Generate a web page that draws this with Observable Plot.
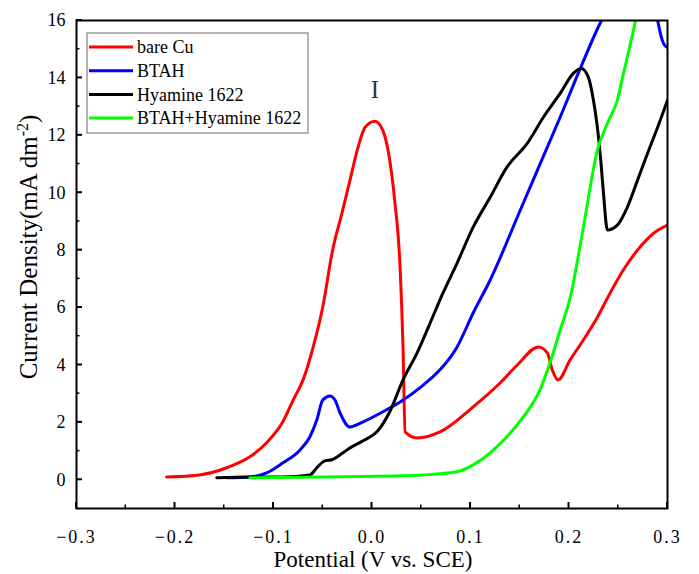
<!DOCTYPE html>
<html>
<head>
<meta charset="utf-8">
<script src="https://cdn.jsdelivr.net/npm/d3@7"></script>
<script src="https://cdn.jsdelivr.net/npm/@observablehq/plot@0.6"></script>
<style>
  html, body { margin: 0; padding: 0; background: #fff; }
  #chart svg { display: block; }
</style>
</head>
<body>
<div id="chart"></div>
<script>
// ---- Data (potential in V vs. SCE, current density in mA dm^-2) ----
const seriesNames = ["bare Cu", "BTAH", "Hyamine 1622", "BTAH+Hyamine 1622"];
const seriesColors = ["#ff0000", "#0000ff", "#000000", "#00ff00"];

const bareCuX = [-0.2085,-0.175,-0.1475,-0.124,-0.107,-0.0905,-0.080,-0.070,-0.060,-0.050,-0.040,-0.0305,-0.0224,-0.0142,-0.007,0.003,0.011,0.018,0.023,0.0285,0.0315,0.0336,0.0458,0.069,0.1027,0.130,0.1475,0.169,0.178,0.183,0.189,0.201,0.2146,0.229,0.239,0.255,0.2695,0.286,0.300];
const bareCuY = [0.10,0.17,0.42,0.80,1.29,2.02,2.78,3.48,4.59,6.02,8.0,9.29,10.43,11.58,12.28,12.49,12.17,11.13,9.74,7.41,4.63,1.67,1.46,1.67,2.54,3.37,4.0,4.63,4.42,3.83,3.48,4.17,4.87,5.67,6.33,7.30,8.0,8.59,8.87];

const btahX = [-0.1475,-0.124,-0.107,-0.0905,-0.073,-0.063,-0.056,-0.050,-0.0427,-0.0376,-0.0325,-0.0224,-0.009,0.011,0.0285,0.052,0.069,0.0864,0.1027,0.120,0.1505,0.171,0.191,0.2115,0.232,0.255,0.275,0.287,0.290,0.296,0.300];
const btahY = [0.07,0.10,0.24,0.59,1.04,1.50,2.09,2.78,2.92,2.78,2.33,1.84,2.02,2.37,2.71,3.30,3.83,4.63,5.81,6.96,9.39,11.03,12.63,14.33,15.93,17.2,17.3,16.6,16.0,15.2,15.06];

const hyamineX = [-0.1576,-0.124,-0.0905,-0.063,-0.056,-0.048,-0.0407,-0.0295,-0.0224,-0.009,0.005,0.018,0.0315,0.0458,0.059,0.072,0.0864,0.1027,0.120,0.137,0.1576,0.174,0.191,0.2044,0.2125,0.2197,0.2248,0.2288,0.232,0.235,0.239,0.249,0.2593,0.2695,0.2797,0.290,0.300];
const hyamineY = [0.07,0.10,0.10,0.17,0.42,0.66,0.70,0.94,1.11,1.36,1.67,2.37,3.48,4.42,5.46,6.50,7.55,8.80,9.84,10.89,11.72,12.63,13.46,14.16,14.33,14.02,13.22,12.28,11.23,9.98,8.70,8.87,9.50,10.43,11.37,12.28,13.22];

const mixX = [-0.124,-0.056,0.0285,0.052,0.0864,0.1027,0.120,0.137,0.1536,0.171,0.181,0.191,0.2014,0.2146,0.2288,0.239,0.249,0.2553,0.2624,0.2675,0.272];
const mixY = [0.07,0.10,0.14,0.17,0.28,0.52,0.94,1.50,2.19,3.17,4.10,5.22,6.37,8.80,11.48,12.42,13.22,14.16,15.20,16.0,17.0];

const xTicks = [-0.3,-0.2,-0.1,0.0,0.1,0.2,0.3];
const xMinorTicks = [-0.25,-0.15,-0.05,0.05,0.15,0.25];
const yTicks = [0,2,4,6,8,10,12,14,16];
const yMinorTicks = [1,3,5,7,9,11,13,15];
const peakLabel = "I";
const xTitle = "Potential (V vs. SCE)";
const yTitle = "Current Density(mA dm";
const yTitleSup = "-2";
const yTitleEnd = ")";

// ---- Build tidy table ----
const allX = [bareCuX, btahX, hyamineX, mixX];
const allY = [bareCuY, btahY, hyamineY, mixY];
const data = [];
allX.forEach((xs, i) => xs.forEach((x, j) => data.push({series: seriesNames[i], x, y: allY[i][j]})));
const bareCu = data.filter(d => d.series === "bare Cu");
const peak = d3.greatest(bareCu, d => d.y);

const fmtX = d => (d < 0 ? "\u2212" : "") + Math.abs(d).toFixed(1);
const serif = "'Liberation Serif', 'Times New Roman', serif";

const plot = Plot.plot({
  width: 699,
  height: 574,
  marginLeft: 76,
  marginRight: 32,
  marginTop: 20,
  marginBottom: 66,
  style: {fontFamily: serif, fontSize: "18px", background: "#fff", color: "#000"},
  x: {domain: [-0.3, 0.3]},
  y: {domain: [-1, 16]},
  color: {domain: seriesNames, range: seriesColors},
  marks: [
    Plot.line(data, {x: "x", y: "y", z: "series", stroke: "series", strokeWidth: 3, clip: true, curve: "monotone-x", strokeLinejoin: "round", strokeLinecap: "round"}),
    Plot.text([peak], {x: "x", y: "y", text: () => peakLabel, dy: -31, fontSize: 25, fill: "#333", fontFamily: serif}),
    Plot.axisX({ticks: xTicks, tickSize: 0, tickPadding: 22, tickFormat: fmtX, label: null, fontSize: 18, fontFamily: serif}),
    Plot.axisY({ticks: yTicks, tickSize: 0, tickPadding: 11, label: null, fontSize: 18, fontFamily: serif}),
    Plot.frame({stroke: "#000", strokeWidth: 2})
  ]
});

const svg = d3.select(plot);
const xs = plot.scale("x"), ys = plot.scale("y");
const x0 = xs.range[0], yBottom = ys.range[0];

// widen x tick label spacing (SimSun-like look)
svg.selectAll("g[aria-label='x-axis tick label'] text").attr("letter-spacing", "2px");

// Inward ticks drawn from the plot's own scales
const tk = svg.append("g").attr("stroke", "#000");
xTicks.forEach(t => tk.append("line").attr("x1", xs.apply(t)).attr("x2", xs.apply(t))
  .attr("y1", yBottom).attr("y2", yBottom - 6).attr("stroke-width", 2));
xMinorTicks.forEach(t => tk.append("line").attr("x1", xs.apply(t)).attr("x2", xs.apply(t))
  .attr("y1", yBottom).attr("y2", yBottom - 3.5).attr("stroke-width", 1.5));
yTicks.forEach(t => tk.append("line").attr("y1", ys.apply(t)).attr("y2", ys.apply(t))
  .attr("x1", x0).attr("x2", x0 + 6).attr("stroke-width", 2));
yMinorTicks.forEach(t => tk.append("line").attr("y1", ys.apply(t)).attr("y2", ys.apply(t))
  .attr("x1", x0).attr("x2", x0 + 3.5).attr("stroke-width", 1.5));

// Axis titles
svg.append("text")
  .attr("x", 373).attr("y", 567)
  .attr("text-anchor", "middle")
  .attr("font-family", serif).attr("font-size", 23)
  .text(xTitle);

const yt = svg.append("text")
  .attr("transform", "translate(37,247) rotate(-90)")
  .attr("text-anchor", "middle")
  .attr("font-family", serif).attr("font-size", 25);
yt.append("tspan").text(yTitle);
yt.append("tspan").attr("dy", -9).attr("font-size", 16).text(yTitleSup);
yt.append("tspan").attr("dy", 9).text(yTitleEnd);

// Legend inside plot area
const lg = svg.append("g").attr("font-family", serif).attr("font-size", 18).attr("text-anchor", "start");
lg.append("rect").attr("x", 87).attr("y", 33).attr("width", 221).attr("height", 100)
  .attr("fill", "#fff").attr("stroke", "#808080").attr("stroke-width", 1.2);
seriesNames.forEach((name, i) => {
  const cy = 47 + i * 23.7;
  lg.append("line").attr("x1", 89).attr("x2", 133).attr("y1", cy).attr("y2", cy)
    .attr("stroke", seriesColors[i]).attr("stroke-width", 3);
  lg.append("text").attr("x", 137).attr("y", cy).attr("dy", "0.35em").attr("fill", "#000")
    .attr("text-anchor", "start").text(name);
});

document.getElementById("chart").appendChild(plot);
</script>
</body>
</html>
